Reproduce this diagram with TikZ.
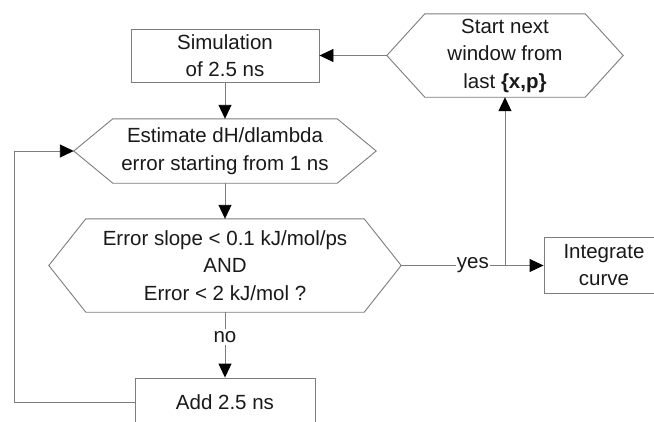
\documentclass[tikz,border=0pt]{standalone}
\usepackage{fontspec}
\setmainfont{Liberation Sans}
\usetikzlibrary{arrows.meta,calc}
\definecolor{lineg}{RGB}{125,125,125}
\definecolor{txt}{RGB}{25,25,25}
\tikzset{
  every node/.style={text=txt},
  lbl/.style={font=\fontsize{20.5}{27.5}\selectfont, align=center, inner sep=0pt},
  boxnode/.style={lbl, draw=lineg, line width=0.9pt, fill=white},
  hexnode/.style={lbl},
  conn/.style={draw=lineg, line width=0.9pt},
  arr/.style={conn, -{Triangle[length=14pt,width=13pt,color=black]}},
  onlabel/.style={lbl, fill=white, inner xsep=1pt, inner ysep=2pt}
}
\newcommand{\hexborder}[2]{%
  \draw[draw=lineg, line width=0.9pt, fill=white] (#1.west) -- ($(#1.north west)+(#2,0)$) -- ($(#1.north east)+(-#2,0)$) -- (#1.east) -- ($(#1.south east)+(-#2,0)$) -- ($(#1.south west)+(#2,0)$) -- cycle;}
\begin{document}
\begin{tikzpicture}[x=1pt,y=-1pt]
\useasboundingbox (0,0) rectangle (654,421);
% boxes
\node[boxnode, minimum width=188pt, minimum height=53pt] (sim) at (225,55.5) {Simulation\\of 2.5 ns};
\node[boxnode, minimum width=180pt, minimum height=48pt] (add) at (225,402) {Add 2.5 ns};
\node[boxnode, minimum width=120pt, minimum height=56pt] (int) at (604,265) {Integrate\\curve};
% hexagons
\path (505,55.5) node[hexnode, minimum width=236pt, minimum height=83pt] (start) {};
\hexborder{start}{38}
\node[lbl] at (start) {Start next\\window from\\last \textbf{\{x,p\}}};
\path (225,151) node[hexnode, minimum width=302pt, minimum height=64pt] (est) {};
\hexborder{est}{39}
\node[lbl] at (est) {Estimate dH/dlambda\\error starting from 1 ns};
\path (225,265.5) node[hexnode, minimum width=352pt, minimum height=93pt] (dec) {};
\hexborder{dec}{37}
\node[lbl] at (dec) {Error slope < 0.1 kJ/mol/ps\\AND\\Error < 2 kJ/mol ?};
% helper coordinates
\coordinate (j) at (505,265.5);
\coordinate (c1) at (14,402);
\coordinate (c2) at (14,151);
% connectors
\draw[arr] (start.west) -- (sim.east);
\draw[arr] (sim.south) -- (est.north);
\draw[arr] (est.south) -- (dec.north);
\draw[conn] (dec.east) -- node[onlabel, pos=0.69]{yes} (j);
\draw[arr] (j) -- (int.west |- j);
\draw[arr] (j) -- (start.south);
\draw[arr] (dec.south) -- node[onlabel, pos=0.38]{no} (add.north);
\draw[arr] (add.west |- c1) -- (c1) -- (c2) -- (est.west);
\end{tikzpicture}
\end{document}
